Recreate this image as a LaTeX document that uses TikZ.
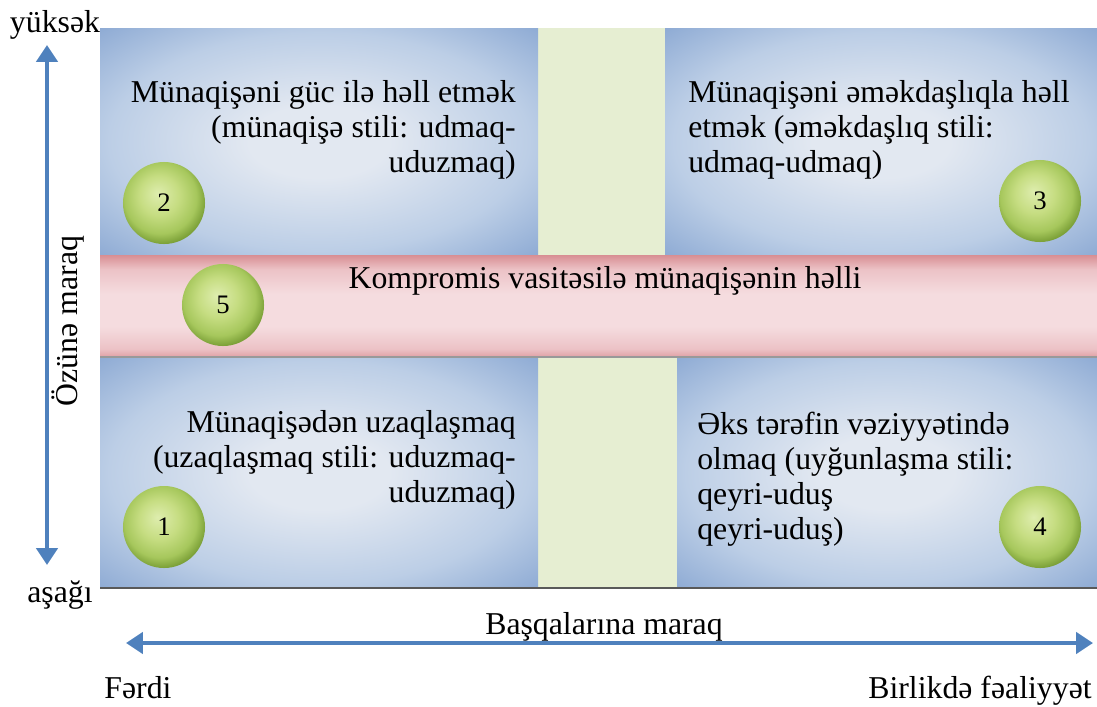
\documentclass[tikz,border=0pt]{standalone}
\usepackage{fontspec}
\setmainfont{Liberation Serif}
\usetikzlibrary{arrows.meta,positioning}
\definecolor{axisblue}{RGB}{79,129,189}
\definecolor{boxlight}{RGB}{226,232,241}
\definecolor{boxmid}{RGB}{188,206,230}
\definecolor{boxblue}{RGB}{132,163,208}
\definecolor{colgreen}{RGB}{230,238,210}
\definecolor{bandtop}{RGB}{216,142,147}
\definecolor{bandmid}{RGB}{245,220,223}
\definecolor{bandlow}{RGB}{236,194,198}
\definecolor{bandbot}{RGB}{224,160,165}
\definecolor{ballhi}{RGB}{222,237,174}
\definecolor{ballmid}{RGB}{198,221,130}
\definecolor{ballrim}{RGB}{166,199,92}
\definecolor{balldark}{RGB}{112,150,46}
\pgfdeclareradialshading{quadshade}{\pgfpoint{0bp}{0bp}}{color(0bp)=(boxlight); color(8bp)=(boxlight); color(24bp)=(boxmid); color(38bp)=(boxblue); color(50bp)=(boxblue)}
\pgfdeclareradialshading{numshade}{\pgfpoint{-4bp}{6bp}}{color(0bp)=(ballhi); color(12bp)=(ballmid); color(22bp)=(ballrim); color(29bp)=(balldark); color(50bp)=(balldark)}
\pgfdeclareverticalshading{bandshade}{100bp}{color(0bp)=(bandbot); color(25bp)=(bandbot); color(29bp)=(bandlow); color(40bp)=(bandmid); color(56bp)=(bandmid); color(68bp)=(bandlow); color(75bp)=(bandtop); color(100bp)=(bandtop)}
\newcommand{\qtext}{\fontsize{22.6}{24.8}\selectfont}

\begin{document}
\begin{tikzpicture}[
      x=0.025cm, y=-0.025cm,
      quad/.style={shade, shading=quadshade},
      num/.style={circle, minimum size=2.05cm, inner sep=0pt, shade, shading=numshade, font=\fontsize{19}{22}\selectfont},
      lbl/.style={font=\qtext, inner sep=0pt},
      axis/.style={draw=axisblue, line width=2.8pt, {Triangle[width=15pt,length=12pt]}-{Triangle[width=15pt,length=12pt]}}
    ]
      \useasboundingbox (0,0) rectangle (1097,706);
      % column and quadrants
      \fill[colgreen] (538,28) rectangle (677,588);
      \shade[quad] (100,28) rectangle (538,255);
      \shade[quad] (665,28) rectangle (1097,255);
      \shade[quad] (100,357) rectangle (538,588);
      \shade[quad] (677,357) rectangle (1097,588);
      % compromise band
      \shade[shading=bandshade] (100,255) rectangle (1097,357);
      \draw[black!40, line width=1pt] (100,357) -- (1097,357);
      \draw[black!65, line width=1.5pt] (100,588) -- (1097,588);

      \node[num] (n2) at (164,203) {2};
      \node[num] (n3) at (1040,201) {3};
      \node[num] (n5) at (223,305) {5};
      \node[num] (n1) at (164,527) {1};
      \node[num] (n4) at (1040,527) {4};

      \node[lbl, align=right, anchor=north east] (t2) at (516,80) {Münaqişəni güc ilə həll etmək\\(münaqişə stili: udmaq-\\uduzmaq)};
      \node[lbl, align=left, anchor=north west] (t3) at (688,80) {Münaqişəni əməkdaşlıqla həll\\etmək (əməkdaşlıq stili:\\udmaq-udmaq)};
      \node[lbl, anchor=base] (t5) at (605,288) {Kompromis vasitəsilə münaqişənin həlli};
      \node[lbl, align=right, anchor=north east] (t1) at (516,410) {Münaqişədən uzaqlaşmaq\\(uzaqlaşmaq stili: uduzmaq-\\uduzmaq)};
      \node[lbl, align=left, anchor=north west] (t4) at (697,412) {Əks tərəfin vəziyyətində\\olmaq (uyğunlaşma stili:\\qeyri-uduş\\qeyri-uduş)};

      % axes
      \node[lbl, anchor=base] (hi) at (55,32) {yüksək};
      \node[lbl, anchor=base] (lo) at (60,602) {aşağı};
      \node[lbl, rotate=90] (ylbl) at (68,321) {Özünə maraq};
      \node[lbl, anchor=base] (xlbl) at (604,634) {Başqalarına maraq};
      \node[lbl, anchor=base] (fardi) at (138,698) {Fərdi};
      \node[lbl, anchor=base] (birge) at (980,698) {Birlikdə fəaliyyət};
      \coordinate (ytop) at (47,45);
      \coordinate (ybot) at (47,565);
      \coordinate (xleft) at (126,643);
      \coordinate (xright) at (1093,643);
      \draw[axis] (ybot) -- (ytop);
      \draw[axis] (xleft) -- (xright);
    \end{tikzpicture}
\end{document}
